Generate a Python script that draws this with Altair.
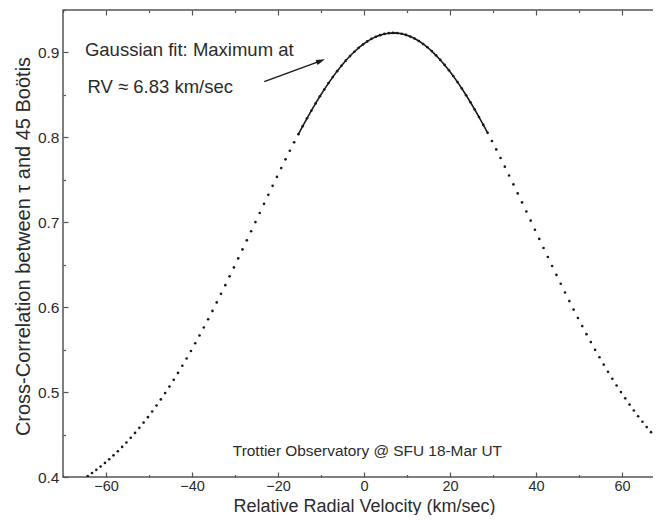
import altair as alt
import pandas as pd

FONT = "Liberation Sans"
TXT = "#2b2b2b"
FRAME = "#555555"

# ---- data ----
velocity = [
    -64.25, -63.25, -62.25, -61.25, -60.25, -59.25, -58.25, -57.25, -56.25, -55.25,
    -54.25, -53.25, -52.25, -51.25, -50.25, -49.25, -48.25, -47.25, -46.25, -45.25,
    -44.25, -43.25, -42.25, -41.25, -40.25, -39.25, -38.25, -37.25, -36.25, -35.25,
    -34.25, -33.25, -32.25, -31.25, -30.25, -29.25, -28.25, -27.25, -26.25, -25.25,
    -24.25, -23.25, -22.25, -21.25, -20.25, -19.25, -18.25, -17.25, -16.25, -15.25,
    -14.25, -13.25, -12.25, -11.25, -10.25, -9.25, -8.25, -7.25, -6.25, -5.25,
    -4.25, -3.25, -2.25, -1.25, -0.25, 0.75, 1.75, 2.75, 3.75, 4.75,
    5.75, 6.75, 7.75, 8.75, 9.75, 10.75, 11.75, 12.75, 13.75, 14.75,
    15.75, 16.75, 17.75, 18.75, 19.75, 20.75, 21.75, 22.75, 23.75, 24.75,
    25.75, 26.75, 27.75, 28.75, 29.75, 30.75, 31.75, 32.75, 33.75, 34.75,
    35.75, 36.75, 37.75, 38.75, 39.75, 40.75, 41.75, 42.75, 43.75, 44.75,
    45.75, 46.75, 47.75, 48.75, 49.75, 50.75, 51.75, 52.75, 53.75, 54.75,
    55.75, 56.75, 57.75, 58.75, 59.75, 60.75, 61.75, 62.75, 63.75, 64.75,
    65.75, 66.75, 67.75, 68.75,
]
correlation = [
    0.4011, 0.4047, 0.4084, 0.4124, 0.4166, 0.4209, 0.4255, 0.4303, 0.4354, 0.4406,
    0.4461, 0.4519, 0.4579, 0.4641, 0.4705, 0.4772, 0.4842, 0.4914, 0.4988, 0.5065,
    0.5144, 0.5226, 0.5310, 0.5396, 0.5484, 0.5575, 0.5667, 0.5761, 0.5858, 0.5956,
    0.6056, 0.6157, 0.6259, 0.6363, 0.6468, 0.6574, 0.6680, 0.6787, 0.6894, 0.7002,
    0.7109, 0.7217, 0.7323, 0.7429, 0.7534, 0.7638, 0.7741, 0.7842, 0.7941, 0.8038,
    0.8132, 0.8225, 0.8314, 0.8400, 0.8484, 0.8563, 0.8639, 0.8711, 0.8780, 0.8844,
    0.8903, 0.8958, 0.9008, 0.9054, 0.9094, 0.9130, 0.9160, 0.9185, 0.9204, 0.9218,
    0.9227, 0.9230, 0.9228, 0.9220, 0.9207, 0.9188, 0.9164, 0.9135, 0.9100, 0.9061,
    0.9016, 0.8966, 0.8912, 0.8853, 0.8790, 0.8723, 0.8651, 0.8576, 0.8496, 0.8414,
    0.8328, 0.8239, 0.8147, 0.8053, 0.7957, 0.7858, 0.7757, 0.7655, 0.7551, 0.7446,
    0.7340, 0.7234, 0.7127, 0.7019, 0.6912, 0.6804, 0.6697, 0.6591, 0.6485, 0.6380,
    0.6276, 0.6173, 0.6072, 0.5972, 0.5873, 0.5777, 0.5682, 0.5589, 0.5498, 0.5410,
    0.5323, 0.5239, 0.5157, 0.5078, 0.5000, 0.4926, 0.4853, 0.4783, 0.4716, 0.4651,
    0.4588, 0.4528, 0.4470, 0.4415,
]
fit_range = [-15.25, 28.75]

ann_text = ["Gaussian fit: Maximum at", "RV \u2248 6.83 km/sec",
            "Trottier Observatory @ SFU 18-Mar UT"]
ann_x = [-64.9, -64.3, -30.5]
ann_y = [0.8959, 0.8527, 0.4247]
ann_size = [18.5, 18.5, 15.4]

arrow_start = [-23.2, 0.8656]
arrow_head = [-10.05, 0.8901]

x_domain = [-70, 70]
y_domain = [0.4, 0.95]
x_tick_values = [-70, -60, -50, -40, -30, -20, -10, 0, 10, 20, 30, 40, 50, 60, 70]
x_label_values = [-60, -40, -20, 0, 20, 40, 60]
y_tick_values = [0.4, 0.45, 0.5, 0.55, 0.6, 0.65, 0.7, 0.75, 0.8, 0.85, 0.9, 0.95]
y_label_values = [0.4, 0.5, 0.6, 0.7, 0.8, 0.9]

W, H = 602, 467

df = pd.DataFrame({"velocity": velocity, "correlation": correlation})
ann = pd.DataFrame({"t": ann_text, "ax": ann_x, "ay": ann_y, "fs": ann_size})
arrow = pd.DataFrame({"x": [arrow_start[0]], "y": [arrow_start[1]],
                      "x2": [arrow_head[0]], "y2": [arrow_head[1]]})

xs = alt.Scale(domain=x_domain, nice=False, zero=False)
ys = alt.Scale(domain=y_domain, nice=False, zero=False)

x_major = {"condition": {"test": "datum.value % 20 == 0", "value": 5}, "value": 2.5}
y_major = {"condition": {"test": "abs(datum.value * 10 - round(datum.value * 10)) < 0.01",
                         "value": 5}, "value": 2.5}

common_tick = dict(labels=False, domain=False, grid=False, ticks=True,
                   tickColor=FRAME, tickWidth=1.2)

label_x_axis = alt.Axis(orient="bottom", values=x_label_values, ticks=False, tickSize=0,
                        domain=False, grid=False, labelPadding=2, labelFontSize=14.5,
                        labelFont=FONT, labelColor=TXT,
                        title="Relative Radial Velocity (km/sec)", titleFont=FONT,
                        titleFontSize=18, titleFontWeight="normal", titleColor=TXT,
                        titleX=W / 2, titleY=34.5, titleBaseline="alphabetic",
                        titleAlign="center")
label_y_axis = alt.Axis(orient="left", values=y_label_values, format=".1f", ticks=False,
                        tickSize=0, domain=False, grid=False, labelPadding=4,
                        labelFontSize=15.5, labelFont=FONT, labelColor=TXT,
                        title="Cross-Correlation between \u03c4 and 45 Bo\u00f6tis",
                        titleFont=FONT, titleFontSize=20, titleFontWeight="normal",
                        titleColor=TXT, titleX=-34, titleY=236, titleAngle=270,
                        titleBaseline="alphabetic", titleAlign="center")

points = alt.Chart(df).mark_circle(size=7, color="#1a1a1a", opacity=1, clip=True).encode(
    x=alt.X("velocity:Q", scale=xs, axis=label_x_axis),
    y=alt.Y("correlation:Q", scale=ys, axis=label_y_axis),
)

fit = alt.Chart(df).transform_filter(
    (alt.datum.velocity >= fit_range[0]) & (alt.datum.velocity <= fit_range[1])
).mark_line(color="#1a1a1a", strokeWidth=1.6, clip=True).encode(
    x=alt.X("velocity:Q", scale=xs,
            axis=alt.Axis(orient="top", offset=-H, values=x_tick_values, tickSize=x_major,
                          title=None, **common_tick)),
    y=alt.Y("correlation:Q", scale=ys,
            axis=alt.Axis(orient="right", offset=-W, values=y_tick_values, tickSize=y_major,
                          title=None, **common_tick)),
)

texts = alt.Chart(ann).mark_text(align="left", baseline="alphabetic", font=FONT,
                                 color=TXT).encode(
    x=alt.X("ax:Q", scale=xs,
            axis=alt.Axis(orient="bottom", offset=-H, values=x_tick_values, tickSize=x_major,
                          title=None, **common_tick)),
    y=alt.Y("ay:Q", scale=ys,
            axis=alt.Axis(orient="left", offset=-W, values=y_tick_values, tickSize=y_major,
                          title=None, **common_tick)),
    text="t:N",
    size=alt.Size("fs:Q", scale=None, legend=None),
)

arrow_line = alt.Chart(arrow).mark_rule(color="#1a1a1a", strokeWidth=1.5).encode(
    x=alt.X("x:Q", scale=xs, axis=None),
    y=alt.Y("y:Q", scale=ys, axis=None),
    x2="x2:Q",
    y2="y2:Q",
)

arrow_tip = alt.Chart(arrow).mark_point(
    shape="M1,0L-1,-0.6L-1,0.6Z", filled=True, size=81, angle=339.7,
    color="#1a1a1a", opacity=1,
).encode(
    x=alt.X("x2:Q", scale=xs, axis=None),
    y=alt.Y("y2:Q", scale=ys, axis=None),
)

chart = alt.layer(points, fit, texts, arrow_line, arrow_tip).resolve_axis(
    x="independent", y="independent"
).properties(
    width=W, height=H,
    autosize=alt.AutoSizeParams(type="none"),
    padding={"left": 55, "top": 2, "right": -12, "bottom": 38},
    background="white",
).configure_view(stroke=FRAME, strokeWidth=1.5)

chart.save("out.html", embed_options={"renderer": "svg", "actions": False})
